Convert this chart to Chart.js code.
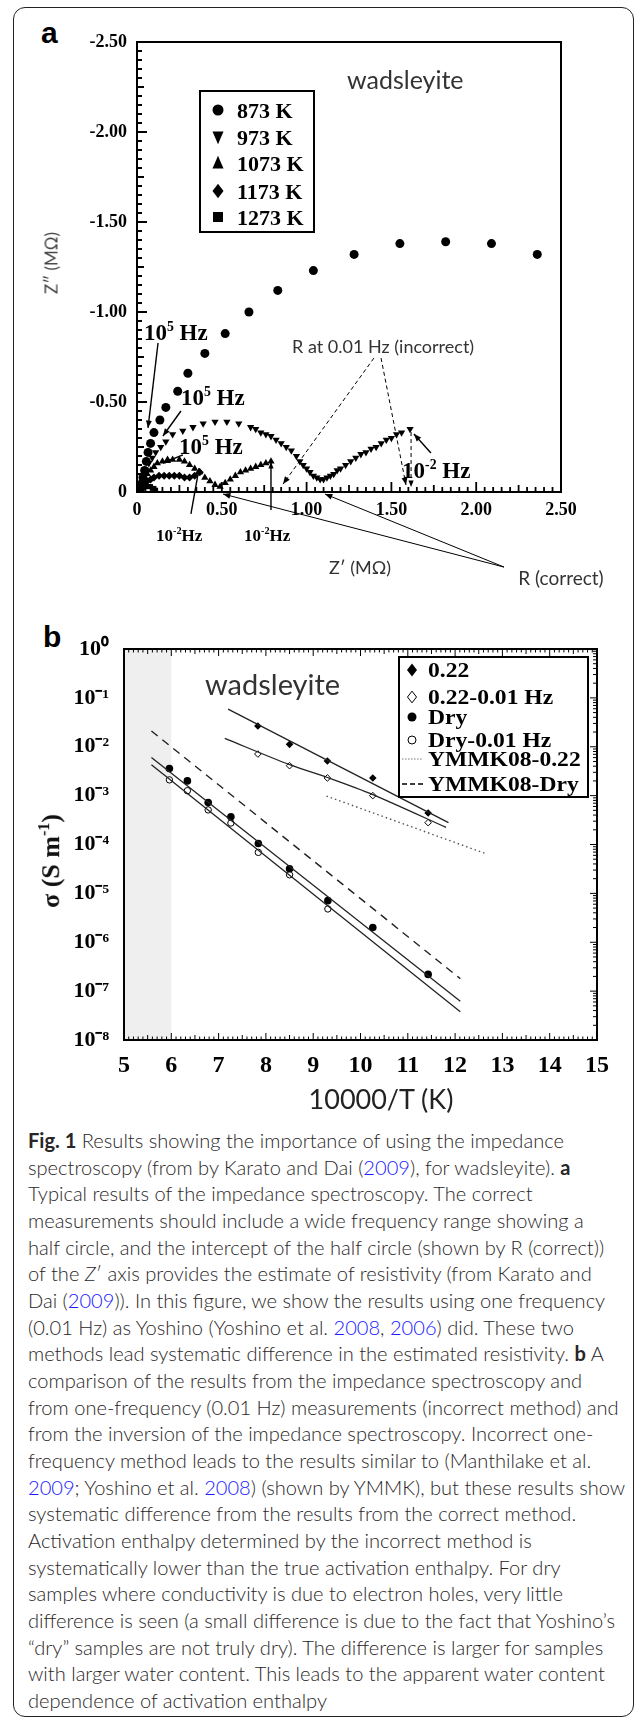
<!DOCTYPE html>
<html>
<head>
<meta charset="utf-8">
<title>Fig. 1 - wadsleyite impedance</title>
<script src="https://cdn.jsdelivr.net/npm/chart.js"></script>
<style>
  body { margin: 0; background: #fff; }
  #fig { position: relative; width: 637px; height: 1719px; overflow: hidden; font-family: Lato, 'Open Sans', sans-serif; color: #231f20; }
  .frame { position: absolute; left: 13px; top: 7px; width: 621px; height: 1710px; border: 1.5px solid #222; border-radius: 12px; box-sizing: border-box; }
  .panel-label { position: absolute; font-family: 'Liberation Sans', Arial, sans-serif; font-weight: bold; font-size: 30px; line-height: 1; color: #000; }
  canvas { position: absolute; left: 0; }
  .t { position: absolute; white-space: nowrap; transform: translate(-50%, -50%); line-height: 1; }
  .rot { transform: translate(-50%, -50%) rotate(-90deg); }
  #caption { position: absolute; left: 28px; top: 1127px; line-height: 26.67px; font-size: 18px; font-weight: 300; color: #2a2627; }
  #caption b { font-weight: 700; }
  #caption .ln { width: max-content; white-space: nowrap; }
  #caption a { color: #1a1aff; text-decoration: none; }
</style>
</head>
<body>
<div id="fig">
  <div class="frame"></div>
  <div class="panel-label" style="left:41px; top:18px;">a</div>
  <div class="panel-label" style="left:43px; top:622px;">b</div>

  <canvas id="chartA" width="637" height="600" style="top:0;"></canvas>
  <canvas id="chartB" width="637" height="520" style="top:600px;"></canvas>

  <!-- titres des axes -->
  <div class="t rot" style="left:51px; top:263px; font-size:17px; color:#444;">Z″ (MΩ)</div>
  <div class="t" style="left:360px; top:567px; font-size:18px; color:#333;">Z′ (MΩ)</div>
  <div class="t" style="left:561px; top:577px; font-size:19px; color:#333;">R (correct)</div>
  <div class="t rot" style="left:50px; top:861px; font-family:'Liberation Serif',serif; font-weight:bold; font-size:26px; color:#111;">σ (S m<sup style="font-size:16px;">-1</sup>)</div>
  <div class="t" style="left:381px; top:1098px; font-size:27px; color:#222;">10000/T (K)</div>

  <div id="caption">
    <div class="ln"><b>Fig. 1</b> Results showing the importance of using the impedance</div>
    <div class="ln">spectroscopy (from by Karato and Dai (<a>2009</a>), for wadsleyite). <b>a</b></div>
    <div class="ln">Typical results of the impedance spectroscopy. The correct</div>
    <div class="ln">measurements should include a wide frequency range showing a</div>
    <div class="ln">half circle, and the intercept of the half circle (shown by R (correct))</div>
    <div class="ln">of the <i>Z</i>′ axis provides the estimate of resistivity (from Karato and</div>
    <div class="ln">Dai (<a>2009</a>)). In this figure, we show the results using one frequency</div>
    <div class="ln">(0.01 Hz) as Yoshino (Yoshino et al. <a>2008</a>, <a>2006</a>) did. These two</div>
    <div class="ln">methods lead systematic difference in the estimated resistivity. <b>b</b> A</div>
    <div class="ln">comparison of the results from the impedance spectroscopy and</div>
    <div class="ln">from one-frequency (0.01 Hz) measurements (incorrect method) and</div>
    <div class="ln">from the inversion of the impedance spectroscopy. Incorrect one-</div>
    <div class="ln">frequency method leads to the results similar to (Manthilake et al.</div>
    <div class="ln"><a>2009</a>; Yoshino et al. <a>2008</a>) (shown by YMMK), but these results show</div>
    <div class="ln">systematic difference from the results from the correct method.</div>
    <div class="ln">Activation enthalpy determined by the incorrect method is</div>
    <div class="ln">systematically lower than the true activation enthalpy. For dry</div>
    <div class="ln">samples where conductivity is due to electron holes, very little</div>
    <div class="ln">difference is seen (a small difference is due to the fact that Yoshino’s</div>
    <div class="ln">“dry” samples are not truly dry). The difference is larger for samples</div>
    <div class="ln">with larger water content. This leads to the apparent water content</div>
    <div class="ln">dependence of activation enthalpy</div>
  </div>
</div>

<script>
  // ---- (a) spectres d'impedance : Z' et Z'' en MOhm ----
  const re873 = [2.36, 2.09, 1.82, 1.55, 1.28, 1.04, 0.83, 0.66, 0.52, 0.40, 0.30, 0.24, 0.17, 0.135, 0.10, 0.08, 0.065, 0.055, 0.045, 0.035, 0.03, 0.02];
  const im873 = [-1.32, -1.38, -1.39, -1.38, -1.32, -1.23, -1.12, -1.00, -0.88, -0.77, -0.66, -0.56, -0.47, -0.40, -0.33, -0.27, -0.22, -0.17, -0.12, -0.08, -0.05, -0.02];

  const re973 = [0.02, 0.03, 0.05, 0.07, 0.09, 0.11, 0.14, 0.17, 0.21, 0.27, 0.33, 0.39, 0.46, 0.53, 0.60, 0.67, 0.70, 0.73, 0.76, 0.79, 0.82, 0.85, 0.88, 0.91, 0.94, 0.96, 0.98, 1.00, 1.02, 1.04, 1.06, 1.08, 1.10, 1.12, 1.14, 1.16, 1.18, 1.20, 1.23, 1.26, 1.29, 1.32, 1.35, 1.38, 1.41, 1.44, 1.47, 1.50, 1.53, 1.56, 1.61];
  const im973 = [-0.04, -0.08, -0.12, -0.16, -0.19, -0.22, -0.25, -0.28, -0.32, -0.34, -0.36, -0.38, -0.39, -0.39, -0.38, -0.36, -0.35, -0.33, -0.32, -0.31, -0.29, -0.27, -0.25, -0.23, -0.20, -0.17, -0.15, -0.13, -0.11, -0.09, -0.08, -0.07, -0.07, -0.08, -0.09, -0.10, -0.12, -0.13, -0.15, -0.17, -0.19, -0.21, -0.22, -0.24, -0.25, -0.27, -0.29, -0.30, -0.32, -0.33, -0.35];

  const re1073 = [0.02, 0.04, 0.06, 0.08, 0.10, 0.12, 0.15, 0.18, 0.21, 0.25, 0.28, 0.31, 0.34, 0.37, 0.40, 0.43, 0.46, 0.49, 0.52, 0.55, 0.58, 0.61, 0.64, 0.67, 0.70, 0.73, 0.76, 0.79];
  const im1073 = [-0.04, -0.07, -0.10, -0.12, -0.14, -0.16, -0.17, -0.18, -0.18, -0.18, -0.17, -0.15, -0.13, -0.11, -0.08, -0.06, -0.04, -0.03, -0.05, -0.07, -0.09, -0.11, -0.12, -0.13, -0.14, -0.15, -0.16, -0.17];

  const re1173 = [0.02, 0.04, 0.06, 0.08, 0.10, 0.13, 0.16, 0.19, 0.22, 0.25, 0.28, 0.31, 0.34, 0.37];
  const im1173 = [-0.02, -0.04, -0.06, -0.07, -0.08, -0.09, -0.09, -0.09, -0.09, -0.09, -0.08, -0.08, -0.09, -0.11];

  const re1273 = [0.01, 0.02, 0.03, 0.04, 0.05, 0.06, 0.07, 0.08, 0.09, 0.10, 0.11];
  const im1273 = [-0.01, -0.02, -0.02, -0.03, -0.03, -0.03, -0.03, -0.03, -0.02, -0.02, -0.01];

  const reTicks = [0, 0.5, 1, 1.5, 2, 2.5];
  const reLabels = ['0', '0.50', '1.00', '1.50', '2.00', '2.50'];
  const imTicks = [-2.5, -2, -1.5, -1, -0.5, 0];
  const imLabels = ['-2.50', '-2.00', '-1.50', '-1.00', '-0.50', '0'];

  // ---- (b) conductivite vs 10000/T ----
  const invTWet = [7.83, 8.50, 9.30, 10.26, 11.43];
  const sigWet = [2.66e-2, 1.12e-2, 5.1e-3, 2.3e-3, 4.4e-4];
  const sigWetLF = [7.1e-3, 4.1e-3, 2.3e-3, 1.0e-3, 2.8e-4];

  const invTDry = [5.96, 6.34, 6.78, 7.26, 7.84, 8.50, 9.31, 10.26, 11.43];
  const sigDry = [3.6e-3, 2.0e-3, 7.2e-4, 3.7e-4, 1.05e-4, 3.2e-5, 7.1e-6, 2.0e-6, 2.2e-7];
  const invTDryLF = [5.96, 6.34, 6.78, 7.26, 7.84, 8.50, 9.31];
  const sigDryLF = [2.1e-3, 1.26e-3, 5.1e-4, 2.75e-4, 6.9e-5, 2.4e-5, 4.8e-6];

  // droites d'ajustement et YMMK08
  const fitWetX = [7.20, 11.86], fitWetY = [5.9e-2, 2.8e-4];
  const fitWetLFX = [7.13, 8.50, 9.30, 10.26, 11.81], fitWetLFY = [1.48e-2, 4.3e-3, 2.35e-3, 1.05e-3, 2.24e-4];
  const fitDryX = [5.58, 12.11], fitDryY = [6.0e-3, 6.2e-8];
  const fitDryLFX = [5.58, 12.11], fitDryLFY = [4.3e-3, 3.8e-8];
  const ymmkDryX = [5.58, 12.11], ymmkDryY = [2.1e-2, 1.8e-7];
  const ymmkWetX = [9.28, 12.63], ymmkWetY = [9.8e-4, 6.6e-5];

  const invTTicks = [5, 6, 7, 8, 9, 10, 11, 12, 13, 14, 15];
  const sigmaExps = [-8, -7, -6, -5, -4, -3, -2, -1, 0];

  // ---- utilitaires ----
  const pts = (xs, ys) => xs.map((x, i) => ({ x: x, y: ys[i] }));
  const SERIF = "'Liberation Serif', 'Times New Roman', serif";
  const SANS = "Lato, 'Open Sans', sans-serif";
  const SUP = { '-': '⁻', '0': '⁰', '1': '¹', '2': '²', '3': '³', '4': '⁴', '5': '⁵', '6': '⁶', '7': '⁷', '8': '⁸', '9': '⁹' };
  const sup = s => String(s).split('').map(c => SUP[c]).join('');

  function arrow(ctx, x1, y1, x2, y2, head, dash) {
    ctx.save();
    ctx.setLineDash(dash || []);
    ctx.beginPath(); ctx.moveTo(x1, y1); ctx.lineTo(x2, y2); ctx.stroke();
    ctx.setLineDash([]);
    if (head) {
      const a = Math.atan2(y2 - y1, x2 - x1);
      ctx.beginPath();
      ctx.moveTo(x2, y2);
      ctx.lineTo(x2 - head * Math.cos(a - 0.38), y2 - head * Math.sin(a - 0.38));
      ctx.lineTo(x2 - head * Math.cos(a + 0.38), y2 - head * Math.sin(a + 0.38));
      ctx.closePath(); ctx.fill();
    }
    ctx.restore();
  }

  // texte avec exposant : parts = [[texte, 'n'|'s'], ...]
  function supText(ctx, x, y, parts, size) {
    let cx = x;
    parts.forEach(([t, k]) => {
      const fs = k === 's' ? size * 0.6 : size;
      ctx.font = 'bold ' + fs + 'px ' + SERIF;
      ctx.fillText(t, cx, k === 's' ? y - size * 0.4 : y);
      cx += ctx.measureText(t).width;
    });
  }

  function symbol(ctx, style, x, y, r, open) {
    ctx.beginPath();
    if (style === 'circle') ctx.arc(x, y, r, 0, Math.PI * 2);
    else if (style === 'rect') ctx.rect(x - r, y - r, 2 * r, 2 * r);
    else if (style === 'rectRot') { ctx.moveTo(x, y - r * 1.3); ctx.lineTo(x + r, y); ctx.lineTo(x, y + r * 1.3); ctx.lineTo(x - r, y); ctx.closePath(); }
    else if (style === 'triUp') { ctx.moveTo(x, y - r * 1.3); ctx.lineTo(x + r, y + r); ctx.lineTo(x - r, y + r); ctx.closePath(); }
    else if (style === 'triDown') { ctx.moveTo(x, y + r * 1.3); ctx.lineTo(x + r, y - r); ctx.lineTo(x - r, y - r); ctx.closePath(); }
    if (open) { ctx.fillStyle = '#fff'; ctx.fill(); ctx.lineWidth = 1; ctx.stroke(); ctx.fillStyle = '#000'; }
    else ctx.fill();
  }

  // ---- extras panneau a : cadre, graduations, annotations, legende ----
  const panelA = {
    id: 'panelA',
    afterDatasetsDraw(chart) {
      const { ctx, chartArea: ca, scales: { x, y } } = chart;
      const px = v => x.getPixelForValue(v), py = v => y.getPixelForValue(v);
      ctx.save();
      ctx.strokeStyle = '#000'; ctx.fillStyle = '#000';
      ctx.lineWidth = 2;
      ctx.strokeRect(ca.left, ca.top, ca.right - ca.left, ca.bottom - ca.top);
      ctx.lineWidth = 1.8;
      for (let i = 0; i <= 50; i++) {
        const v = i * 0.05;
        const len = i % 10 === 0 ? 10 : (i % 5 === 0 ? 7 : 5);
        ctx.beginPath();
        ctx.moveTo(ca.left, py(-v)); ctx.lineTo(ca.left + len, py(-v));
        ctx.moveTo(px(v), ca.bottom); ctx.lineTo(px(v), ca.bottom - len);
        ctx.stroke();
      }

      // fleches 10^5 Hz
      ctx.lineWidth = 1.4;
      ctx.textBaseline = 'alphabetic'; ctx.textAlign = 'left';
      supText(ctx, px(0.041), py(-0.844), [['10', 'n'], ['5', 's'], [' Hz', 'n']], 23);
      arrow(ctx, px(0.124), py(-0.828), px(0.065), py(-0.356), 8);
      supText(ctx, px(0.259), py(-0.483), [['10', 'n'], ['5', 's'], [' Hz', 'n']], 23);
      arrow(ctx, px(0.259), py(-0.45), px(0.153), py(-0.311), 8);
      supText(ctx, px(0.248), py(-0.211), [['10', 'n'], ['5', 's'], [' Hz', 'n']], 23);
      arrow(ctx, px(0.271), py(-0.206), px(0.153), py(-0.161), 8);

      // R at 0.01 Hz (incorrect)
      ctx.font = '18px ' + SANS; ctx.fillStyle = '#333';
      ctx.fillText('R at 0.01 Hz (incorrect)', px(0.914), py(-0.772));
      ctx.fillStyle = '#000'; ctx.lineWidth = 1;
      arrow(ctx, px(1.397), py(-0.744), px(0.861), py(-0.044), 8, [4, 3]);
      arrow(ctx, px(1.439), py(-0.744), px(1.586), py(-0.039), 8, [4, 3]);
      arrow(ctx, px(1.616), py(-0.333), px(1.616), py(-0.028), 7, [4, 3]);

      // 10^-2 Hz
      ctx.lineWidth = 1.4;
      supText(ctx, px(1.563), py(-0.078), [['10', 'n'], ['-2', 's'], [' Hz', 'n']], 23);
      arrow(ctx, px(1.733), py(-0.217), px(1.633), py(-0.322), 8);
      supText(ctx, px(0.112), py(0.272), [['10', 'n'], ['-2', 's'], ['Hz', 'n']], 17);
      arrow(ctx, px(0.318), py(0.122), px(0.366), py(-0.133), 7);
      supText(ctx, px(0.631), py(0.272), [['10', 'n'], ['-2', 's'], ['Hz', 'n']], 17);
      arrow(ctx, px(0.79), py(0.10), px(0.79), py(-0.167), 7);

      // R (correct)
      ctx.lineWidth = 1;
      arrow(ctx, px(2.164), py(0.417), px(0.507), py(0.011), 8);
      arrow(ctx, px(2.164), py(0.417), px(1.108), py(0.011), 8);

      // legende
      ctx.lineWidth = 2;
      ctx.strokeRect(ca.left + 63, ca.top + 49, 114, 141);
      const rows = [68, 95, 121, 149, 175];
      const styles = ['circle', 'triDown', 'triUp', 'rectRot', 'rect'];
      const names = ['873 K', '973 K', '1073 K', '1173 K', '1273 K'];
      ctx.font = 'bold 22px ' + SERIF;
      rows.forEach((r, i) => {
        symbol(ctx, styles[i], ca.left + 81, ca.top + r, styles[i] === 'rect' ? 5 : 5.5, false);
        ctx.fillText(names[i], ca.left + 100, ca.top + r + 8);
      });

      ctx.font = '25px ' + SANS; ctx.fillStyle = '#333';
      ctx.fillText('wadsleyite', ca.left + 210, ca.top + 47);
      ctx.restore();
    }
  };

  const tickFontA = { family: SERIF, weight: 'bold', size: 18 };

  new Chart(document.getElementById('chartA'), {
    type: 'scatter',
    data: {
      datasets: [
        { label: '1273 K', data: pts(re1273, im1273), pointStyle: 'rect', pointRadius: 3.5, backgroundColor: '#000', borderWidth: 0 },
        { label: '1173 K', data: pts(re1173, im1173), pointStyle: 'rectRot', pointRadius: 4, backgroundColor: '#000', borderWidth: 0 },
        { label: '1073 K', data: pts(re1073, im1073), pointStyle: 'triangle', pointRadius: 4.2, backgroundColor: '#000', borderWidth: 0 },
        { label: '973 K', data: pts(re973, im973), pointStyle: 'triangle', rotation: 180, pointRadius: 4.2, backgroundColor: '#000', borderWidth: 0 },
        { label: '873 K', data: pts(re873, im873), pointStyle: 'circle', pointRadius: 4.5, backgroundColor: '#000', borderWidth: 0 }
      ]
    },
    options: {
      responsive: false, animation: false, events: [],
      layout: { padding: { left: 0, right: 76, top: 42, bottom: 0 } },
      plugins: { legend: { display: false }, tooltip: { enabled: false } },
      scales: {
        x: {
          type: 'linear', min: 0, max: 2.5,
          afterFit: s => { s.height = 108; },
          afterBuildTicks: s => { s.ticks = reTicks.map(v => ({ value: v })); },
          grid: { display: false, drawTicks: false }, border: { display: false },
          ticks: { padding: 8, color: '#000', font: tickFontA, maxRotation: 0, callback: v => reLabels[Math.round(v * 2)] }
        },
        y: {
          type: 'linear', min: -2.5, max: 0, reverse: true,
          afterFit: s => { s.width = 137; },
          afterBuildTicks: s => { s.ticks = imTicks.map(v => ({ value: v })); },
          grid: { display: false, drawTicks: false }, border: { display: false },
          ticks: { padding: 10, color: '#000', font: tickFontA, callback: v => imLabels[Math.round((v + 2.5) * 2)] }
        }
      }
    },
    plugins: [panelA]
  });

  // ---- extras panneau b ----
  const panelB = {
    id: 'panelB',
    beforeDatasetsDraw(chart) {
      const { ctx, chartArea: ca, scales: { x } } = chart;
      ctx.save();
      ctx.fillStyle = '#efefef';
      ctx.fillRect(x.getPixelForValue(5), ca.top, x.getPixelForValue(6) - x.getPixelForValue(5), ca.bottom - ca.top);
      ctx.restore();
    },
    afterDatasetsDraw(chart) {
      const { ctx, chartArea: ca, scales: { x, y } } = chart;
      ctx.save();
      ctx.strokeStyle = '#000'; ctx.fillStyle = '#000';
      ctx.lineWidth = 2;
      ctx.strokeRect(ca.left, ca.top, ca.right - ca.left, ca.bottom - ca.top);
      ctx.lineWidth = 1;
      for (let i = 0; i <= 100; i++) {
        const xp = x.getPixelForValue(5 + i * 0.1);
        const len = i % 10 === 0 ? 7 : (i % 5 === 0 ? 5 : 3.5);
        ctx.beginPath();
        ctx.moveTo(xp, ca.bottom); ctx.lineTo(xp, ca.bottom - len);
        ctx.moveTo(xp, ca.top); ctx.lineTo(xp, ca.top + len);
        ctx.stroke();
      }
      for (let e = -8; e < 0; e++) {
        for (let m = 1; m <= 9; m++) {
          const yp = y.getPixelForValue(m * Math.pow(10, e));
          ctx.beginPath();
          ctx.moveTo(ca.right, yp); ctx.lineTo(ca.right - (m === 1 ? 7 : 4), yp);
          ctx.stroke();
        }
      }

      // legende
      const L = ca.right - 198, T = ca.top + 8;
      ctx.lineWidth = 2;
      ctx.strokeRect(L, T, 189, 140);
      const rows = [13, 40, 60, 83, 102, 127];
      const names = ['0.22', '0.22-0.01 Hz', 'Dry', 'Dry-0.01 Hz', 'YMMK08-0.22', 'YMMK08-Dry'];
      rows.forEach((r, i) => {
        const yy = T + r;
        if (i === 0) symbol(ctx, 'rectRot', L + 13, yy, 5, false);
        if (i === 1) symbol(ctx, 'rectRot', L + 13, yy, 4.5, true);
        if (i === 2) symbol(ctx, 'circle', L + 13, yy, 4.5, false);
        if (i === 3) symbol(ctx, 'circle', L + 13, yy, 4, true);
        if (i === 4) { ctx.lineWidth = 1; ctx.strokeStyle = '#777'; arrow(ctx, L + 3, yy, L + 24, yy, 0, [1.5, 1.5]); ctx.strokeStyle = '#000'; }
        if (i === 5) { ctx.lineWidth = 1.4; arrow(ctx, L + 3, yy, L + 26, yy, 0, [5, 3]); }
        ctx.save();
        ctx.translate(L + 29, yy + 7);
        ctx.scale(1.18, 1);
        ctx.font = 'bold 20px ' + SERIF; ctx.fillStyle = '#000';
        ctx.fillText(names[i], 0, 0);
        ctx.restore();
      });

      ctx.font = '29px ' + SANS; ctx.fillStyle = '#333';
      ctx.fillText('wadsleyite', ca.left + 81, ca.top + 46);
      ctx.restore();
    }
  };

  const lineDs = (xs, ys, extra) => Object.assign({
    data: pts(xs, ys), showLine: true, pointRadius: 0, borderColor: '#222', borderWidth: 1.3, fill: false
  }, extra || {});

  new Chart(document.getElementById('chartB'), {
    type: 'scatter',
    data: {
      datasets: [
        lineDs(fitWetX, fitWetY),
        lineDs(fitWetLFX, fitWetLFY, { tension: 0.3 }),
        lineDs(fitDryX, fitDryY),
        lineDs(fitDryLFX, fitDryLFY),
        lineDs(ymmkDryX, ymmkDryY, { borderDash: [8, 6], borderWidth: 1.4 }),
        lineDs(ymmkWetX, ymmkWetY, { borderDash: [1.5, 3], borderColor: '#555', borderWidth: 1.4 }),
        { label: '0.22', data: pts(invTWet, sigWet), pointStyle: 'rectRot', pointRadius: 3.8, backgroundColor: '#000', borderWidth: 0 },
        { label: '0.22-0.01 Hz', data: pts(invTWet, sigWetLF), pointStyle: 'rectRot', pointRadius: 3.3, backgroundColor: '#fff', borderColor: '#000', borderWidth: 1 },
        { label: 'Dry', data: pts(invTDry, sigDry), pointStyle: 'circle', pointRadius: 3.8, backgroundColor: '#000', borderWidth: 0 },
        { label: 'Dry-0.01 Hz', data: pts(invTDryLF, sigDryLF), pointStyle: 'circle', pointRadius: 3.2, backgroundColor: '#fff', borderColor: '#000', borderWidth: 1 }
      ]
    },
    options: {
      responsive: false, animation: false, events: [],
      layout: { padding: { left: 0, right: 40, top: 49, bottom: 0 } },
      plugins: { legend: { display: false }, tooltip: { enabled: false } },
      scales: {
        x: {
          type: 'linear', min: 5, max: 15,
          afterFit: s => { s.height = 80; },
          afterBuildTicks: s => { s.ticks = invTTicks.map(v => ({ value: v })); },
          grid: { display: false, drawTicks: false }, border: { display: false },
          ticks: { padding: 11, color: '#000', font: { family: SERIF, weight: 'bold', size: 24 }, maxRotation: 0 }
        },
        y: {
          type: 'logarithmic', min: 1e-8, max: 1,
          afterFit: s => { s.width = 124; },
          afterBuildTicks: s => { s.ticks = sigmaExps.map(e => ({ value: Math.pow(10, e) })); },
          grid: { display: false, drawTicks: false }, border: { display: false },
          ticks: { padding: 15, color: '#000', font: { family: SERIF, weight: 'bold', size: 22 }, callback: v => '10' + sup(Math.round(Math.log10(v))) }
        }
      }
    },
    plugins: [panelB]
  });

  // taille de police de la legende ajustee a la largeur d'une ligne de reference
  const cap = document.getElementById('caption');
  const ref = cap.children[3];
  cap.style.fontSize = (18 * 556 / ref.getBoundingClientRect().width).toFixed(2) + 'px';
</script>
</body>
</html>
